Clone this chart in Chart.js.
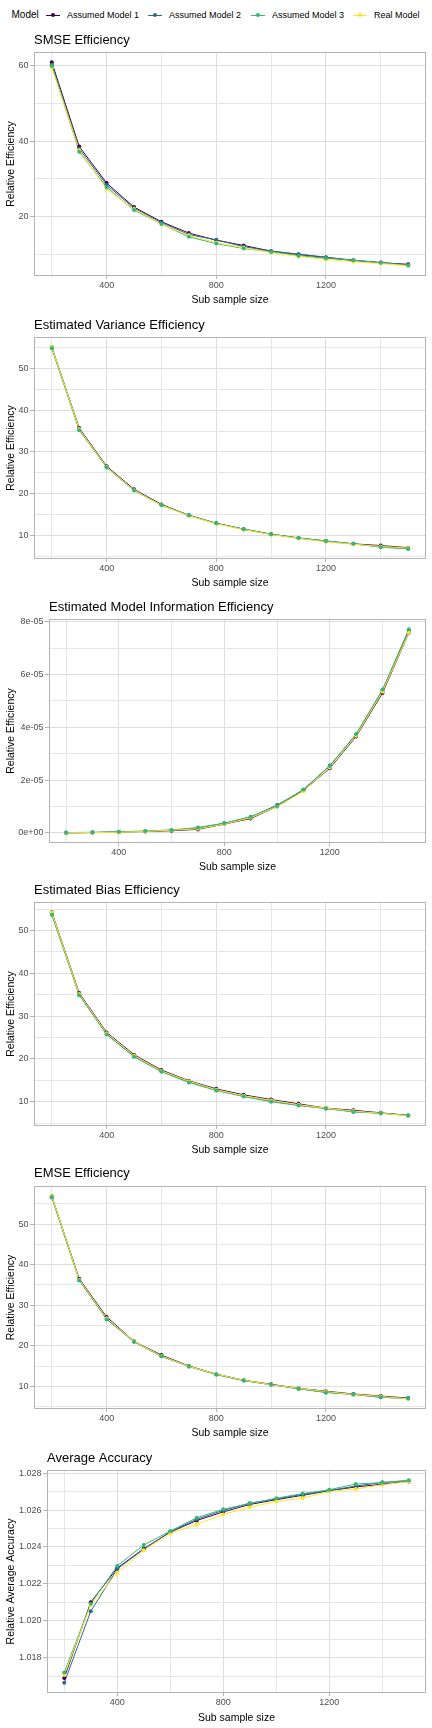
<!DOCTYPE html>
<html>
<head>
<meta charset="utf-8">
<script src="https://cdn.jsdelivr.net/npm/chart.js@4.4.1/dist/chart.umd.min.js"></script>
<style>
  html, body { margin: 0; padding: 0; background: #ffffff; width: 432px; height: 1728px; overflow: hidden;
    font-family: "Liberation Sans", Arial, sans-serif; }
  .panel { position: absolute; left: 0; }
  #legend { position: absolute; left: 0; top: 0; width: 432px; height: 30px; }
  #legend .lt { position: absolute; top: 9px; font-size: 10px; line-height: 12px; color: #000; }
  #legend .item { position: absolute; top: 9px; height: 12px; display: flex; align-items: center; }
  #legend .key { position: relative; width: 14px; height: 12px; }
  #legend .key .ln { position: absolute; left: 0; right: 0; top: 5.5px; height: 1px; }
  #legend .key .dt { position: absolute; left: 5px; top: 4px; width: 4px; height: 4px; border-radius: 50%; }
  #legend .txt { margin-left: 7px; font-size: 9px; line-height: 12px; color: #000; white-space: nowrap; }
</style>
</head>
<body>
<div id="legend"></div>
<script>
// ---------------- DATA ----------------
const subSampleSizes = [200, 300, 400, 500, 600, 700, 800, 900, 1000, 1100, 1200, 1300, 1400, 1500];
const modelNames = ['Assumed Model 1', 'Assumed Model 2', 'Assumed Model 3', 'Real Model'];
const legendTitle = 'Model';
const panelTitles = ['SMSE Efficiency', 'Estimated Variance Efficiency', 'Estimated Model Information Efficiency',
  'Estimated Bias Efficiency', 'EMSE Efficiency', 'Average Accuracy'];
const yAxisTitles = ['Relative Efficiency', 'Relative Efficiency', 'Relative Efficiency',
  'Relative Efficiency', 'Relative Efficiency', 'Relative Average Accuracy'];
const xAxisTitle = 'Sub sample size';

const smseModel1 = [61.0, 38.6, 28.9, 22.5, 18.6, 15.6, 13.7, 12.3, 10.8, 9.9, 9.1, 8.3, 7.7, 7.3];
const smseModel2 = [60.4, 38.0, 28.4, 22.2, 18.4, 15.2, 13.8, 12.0, 10.8, 10.0, 9.2, 8.4, 7.8, 7.2];
const smseModel3 = [60.0, 37.2, 27.8, 21.7, 18.0, 14.6, 12.8, 11.5, 10.6, 9.6, 8.9, 8.4, 7.7, 7.0];
const smseReal   = [59.6, 37.6, 27.3, 22.0, 17.9, 15.0, 13.0, 11.7, 10.4, 9.4, 8.6, 8.0, 7.5, 6.9];

const varModel1 = [55.0, 35.7, 26.6, 21.1, 17.5, 14.9, 13.0, 11.6, 10.4, 9.5, 8.7, 8.1, 7.7, 7.2];
const varModel2 = [54.8, 35.4, 26.4, 20.9, 17.4, 14.9, 13.0, 11.6, 10.4, 9.5, 8.8, 8.1, 7.4, 7.0];
const varModel3 = [54.7, 35.2, 26.3, 20.8, 17.3, 14.9, 13.0, 11.6, 10.4, 9.5, 8.8, 8.1, 7.3, 6.9];
const varReal   = [55.0, 35.5, 26.4, 20.9, 17.3, 14.8, 12.9, 11.5, 10.3, 9.4, 8.6, 8.0, 7.5, 7.1];

const infoModel1 = [0.00e-5, 0.01e-5, 0.03e-5, 0.05e-5, 0.08e-5, 0.13e-5, 0.33e-5, 0.54e-5, 1.00e-5, 1.60e-5, 2.45e-5, 3.65e-5, 5.30e-5, 7.58e-5];
const infoModel2 = [0.00e-5, 0.01e-5, 0.03e-5, 0.06e-5, 0.10e-5, 0.18e-5, 0.36e-5, 0.60e-5, 1.05e-5, 1.63e-5, 2.55e-5, 3.72e-5, 5.40e-5, 7.68e-5];
const infoModel3 = [0.01e-5, 0.02e-5, 0.04e-5, 0.07e-5, 0.11e-5, 0.20e-5, 0.37e-5, 0.61e-5, 1.02e-5, 1.64e-5, 2.53e-5, 3.75e-5, 5.43e-5, 7.72e-5];
const infoReal   = [0.00e-5, 0.01e-5, 0.02e-5, 0.05e-5, 0.10e-5, 0.15e-5, 0.33e-5, 0.57e-5, 0.99e-5, 1.58e-5, 2.48e-5, 3.68e-5, 5.35e-5, 7.58e-5];

const biasModel1 = [54.3, 35.4, 26.2, 21.0, 17.4, 14.9, 13.0, 11.6, 10.5, 9.5, 8.5, 8.0, 7.4, 6.8];
const biasModel2 = [53.9, 35.0, 25.8, 20.6, 17.1, 14.6, 12.7, 11.3, 10.1, 9.2, 8.4, 7.7, 7.3, 6.8];
const biasModel3 = [53.7, 34.9, 25.7, 20.5, 17.0, 14.5, 12.6, 11.2, 10.0, 9.1, 8.4, 7.6, 7.3, 6.8];
const biasReal   = [54.2, 35.2, 26.0, 20.8, 17.2, 14.8, 12.8, 11.4, 10.3, 9.3, 8.5, 7.8, 7.3, 6.7];

const emseModel1 = [56.9, 36.5, 27.1, 21.1, 17.7, 15.0, 13.0, 11.5, 10.5, 9.5, 8.8, 8.1, 7.6, 7.1];
const emseModel2 = [56.6, 36.2, 26.6, 21.0, 17.4, 14.9, 12.9, 11.4, 10.4, 9.4, 8.5, 8.0, 7.3, 7.0];
const emseModel3 = [56.6, 36.1, 26.5, 21.0, 17.4, 14.9, 12.9, 11.4, 10.4, 9.4, 8.5, 8.0, 7.3, 7.0];
const emseReal   = [56.9, 36.3, 26.8, 21.1, 17.5, 14.9, 13.0, 11.5, 10.4, 9.5, 8.7, 8.0, 7.5, 6.9];

const accModel1 = [1.01689, 1.02100, 1.02285, 1.02390, 1.02480, 1.02543, 1.02590, 1.02630, 1.02656, 1.02680, 1.02705, 1.02725, 1.02740, 1.02755];
const accModel2 = [1.01663, 1.02051, 1.02280, 1.02388, 1.02482, 1.02550, 1.02598, 1.02637, 1.02660, 1.02685, 1.02705, 1.02730, 1.02750, 1.02758];
const accModel3 = [1.01719, 1.02092, 1.02297, 1.02410, 1.02486, 1.02558, 1.02604, 1.02635, 1.02664, 1.02689, 1.02710, 1.02741, 1.02748, 1.02762];
const accReal   = [1.01705, 1.02085, 1.02258, 1.02382, 1.02473, 1.02522, 1.02576, 1.02615, 1.02646, 1.02665, 1.02700, 1.02714, 1.02737, 1.02754];

// tick values and labels
const xMajorTicks = [400, 800, 1200];
const xMajorLabels = ['400', '800', '1200'];
const xMinorTicks = [200, 600, 1000, 1400];

const smseYMajor = [20, 40, 60];
const smseYLabels = ['20', '40', '60'];
const smseYMinor = [10, 30, 50];

const effYMajor = [10, 20, 30, 40, 50];
const effYLabels = ['10', '20', '30', '40', '50'];
const effYMinor = [5, 15, 25, 35, 45, 55];

const infoYMajor = [0, 2e-5, 4e-5, 6e-5, 8e-5];
const infoYLabels = ['0e+00', '2e-05', '4e-05', '6e-05', '8e-05'];
const infoYMinor = [1e-5, 3e-5, 5e-5, 7e-5];

const accYMajor = [1.018, 1.020, 1.022, 1.024, 1.026, 1.028];
const accYLabels = ['1.018', '1.020', '1.022', '1.024', '1.026', '1.028'];
const accYMinor = [1.017, 1.019, 1.021, 1.023, 1.025, 1.027];

// ---------------- STYLE / LAYOUT ----------------
const modelColors = ['#440154', '#31688E', '#35B779', '#FDE725'];
const FONT = '"Liberation Sans", Arial, sans-serif';
Chart.defaults.font.family = FONT;
Chart.defaults.color = '#000';

const panels = [
  { series: [smseModel1, smseModel2, smseModel3, smseReal], yMajor: smseYMajor, yLabels: smseYLabels, yMinor: smseYMinor },
  { series: [varModel1, varModel2, varModel3, varReal], yMajor: effYMajor, yLabels: effYLabels, yMinor: effYMinor },
  { series: [infoModel1, infoModel2, infoModel3, infoReal], yMajor: infoYMajor, yLabels: infoYLabels, yMinor: infoYMinor },
  { series: [biasModel1, biasModel2, biasModel3, biasReal], yMajor: effYMajor, yLabels: effYLabels, yMinor: effYMinor },
  { series: [emseModel1, emseModel2, emseModel3, emseReal], yMajor: effYMajor, yLabels: effYLabels, yMinor: effYMinor },
  { series: [accModel1, accModel2, accModel3, accReal], yMajor: accYMajor, yLabels: accYLabels, yMinor: accYMinor },
];

const geometry = [
  { titleY: 40,   top: 52,   bottom: 276,  left: 34, xTitleGap: 24 },
  { titleY: 325,  top: 337,  bottom: 559,  left: 34, xTitleGap: 24 },
  { titleY: 607,  top: 619,  bottom: 843,  left: 49, xTitleGap: 24 },
  { titleY: 890,  top: 902,  bottom: 1126, left: 34, xTitleGap: 24 },
  { titleY: 1173, top: 1186, bottom: 1409, left: 34, xTitleGap: 24 },
  { titleY: 1458, top: 1470, bottom: 1693, left: 47, xTitleGap: 25 },
];
const PLOT_RIGHT = 426;
const X_SCALE_H = 32;
const TITLE_SIZE = 13, AXIS_TITLE_SIZE = 10.5, TICK_SIZE = 9;
const GRID_MAJOR = '#DEDEDE', GRID_MINOR = '#E6E6E6', BORDER = '#B3B3B3', TICK_TEXT = '#4D4D4D';

// ---------------- LEGEND (HTML) ----------------
(function buildLegend() {
  const lg = document.getElementById('legend');
  const t = document.createElement('span');
  t.className = 'lt'; t.style.left = '11.5px'; t.textContent = legendTitle;
  lg.appendChild(t);
  const keyLefts = [46, 148, 251, 353];
  modelNames.forEach((name, i) => {
    const it = document.createElement('div');
    it.className = 'item'; it.style.left = keyLefts[i] + 'px';
    it.innerHTML = '<span class="key"><span class="ln" style="background:' + modelColors[i] +
      '"></span><span class="dt" style="background:' + modelColors[i] + '"></span></span><span class="txt"></span>';
    it.querySelector('.txt').textContent = name;
    lg.appendChild(it);
  });
})();

// ---------------- PANELS ----------------
const borderPlugin = {
  id: 'panelBorder',
  afterDraw(chart) {
    const a = chart.chartArea, c = chart.ctx;
    c.save();
    c.strokeStyle = BORDER; c.lineWidth = 1;
    c.strokeRect(Math.round(a.left) + 0.5, Math.round(a.top) + 0.5,
      Math.round(a.right) - Math.round(a.left) - 1, Math.round(a.bottom) - Math.round(a.top) - 1);
    c.restore();
  }
};

function near(a, b) { return Math.abs(a - b) <= 1e-9 * Math.max(1e-6, Math.abs(b)) + 1e-15; }

function expandRange(values) {
  const lo = Math.min(...values), hi = Math.max(...values);
  const pad = (hi - lo) * 0.05;
  return [lo - pad, hi + pad];
}

panels.forEach((p, idx) => {
  const g = geometry[idx];
  const cTop = g.titleY - 12;
  const cH = g.bottom + X_SCALE_H - cTop;
  const div = document.createElement('div');
  div.className = 'panel';
  div.style.top = cTop + 'px';
  div.style.width = '432px';
  div.style.height = cH + 'px';
  const canvas = document.createElement('canvas');
  canvas.width = 432; canvas.height = cH;
  canvas.style.width = '432px'; canvas.style.height = cH + 'px';
  div.appendChild(canvas);
  document.body.appendChild(div);

  const [xMin, xMax] = expandRange(subSampleSizes);
  const [yMin, yMax] = expandRange(p.series.flat());
  const yTicksAll = [...p.yMajor, ...p.yMinor].sort((a, b) => a - b);
  const xTicksAll = [...xMajorTicks, ...xMinorTicks].sort((a, b) => a - b);
  const yIsMajor = v => p.yMajor.some(m => near(v, m));
  const xIsMajor = v => xMajorTicks.some(m => near(v, m));

  const lineSets = p.series.map((vals, i) => ({
    label: modelNames[i] + ' line',
    data: subSampleSizes.map((x, j) => ({ x: x, y: vals[j] })),
    borderColor: modelColors[i], backgroundColor: modelColors[i],
    borderWidth: 1, pointRadius: 0, tension: 0, fill: false,
    order: 10 + (3 - i)
  }));
  const pointOrder = [3, 2, 0, 1];
  const pointSets = p.series.map((vals, i) => ({
    label: modelNames[i],
    data: subSampleSizes.map((x, j) => ({ x: x, y: vals[j] })),
    borderColor: modelColors[i], backgroundColor: modelColors[i],
    showLine: false, pointRadius: 2, pointBorderWidth: 0, pointHoverRadius: 2,
    order: pointOrder[i]
  }));

  new Chart(canvas.getContext('2d'), {
    type: 'line',
    data: { datasets: [...lineSets, ...pointSets] },
    options: {
      responsive: false, animation: false, devicePixelRatio: window.devicePixelRatio || 1,
      layout: { padding: { left: 0, right: 432 - PLOT_RIGHT, top: 0, bottom: 0 } },
      plugins: {
        legend: { display: false },
        tooltip: { enabled: false },
        title: {
          display: true, text: panelTitles[idx], align: 'start', fullSize: false,
          color: '#000', font: { size: TITLE_SIZE, weight: 'normal', family: FONT },
          padding: { top: 12 - 7.8, bottom: g.top - g.titleY - 7.8 }
        }
      },
      scales: {
        x: {
          type: 'linear', min: xMin, max: xMax,
          afterBuildTicks: s => { s.ticks = xTicksAll.map(v => ({ value: v })); },
          afterFit: s => { s.height = X_SCALE_H; },
          border: { display: false },
          grid: {
            color: c => xIsMajor(c.tick.value) ? GRID_MAJOR : GRID_MINOR,
            lineWidth: 1, drawTicks: true, tickLength: 3,
            tickColor: c => xIsMajor(c.tick.value) ? BORDER : 'rgba(0,0,0,0)'
          },
          ticks: {
            autoSkip: false, maxRotation: 0, padding: 1, color: TICK_TEXT,
            font: { size: TICK_SIZE, family: FONT },
            callback: v => { const k = xMajorTicks.findIndex(m => near(v, m)); return k >= 0 ? xMajorLabels[k] : ''; }
          },
          title: {
            display: true, text: xAxisTitle, color: '#000',
            font: { size: AXIS_TITLE_SIZE, family: FONT },
            padding: { top: 0, bottom: X_SCALE_H - g.xTitleGap - AXIS_TITLE_SIZE * 0.6 }
          }
        },
        y: {
          type: 'linear', min: yMin, max: yMax,
          afterBuildTicks: s => { s.ticks = yTicksAll.map(v => ({ value: v })); },
          afterFit: s => { s.width = g.left; },
          border: { display: false },
          grid: {
            color: c => yIsMajor(c.tick.value) ? GRID_MAJOR : GRID_MINOR,
            lineWidth: 1, drawTicks: true, tickLength: 4,
            tickColor: c => yIsMajor(c.tick.value) ? BORDER : 'rgba(0,0,0,0)'
          },
          ticks: {
            autoSkip: false, padding: 1.5, color: TICK_TEXT,
            font: { size: TICK_SIZE, family: FONT },
            callback: v => { const k = p.yMajor.findIndex(m => near(v, m)); return k >= 0 ? p.yLabels[k] : ''; }
          },
          title: {
            display: true, text: yAxisTitles[idx], color: '#000',
            font: { size: AXIS_TITLE_SIZE, family: FONT },
            padding: { top: 11 - AXIS_TITLE_SIZE * 0.6, bottom: 0 }
          }
        }
      }
    },
    plugins: [borderPlugin]
  });
});
</script>
</body>
</html>
